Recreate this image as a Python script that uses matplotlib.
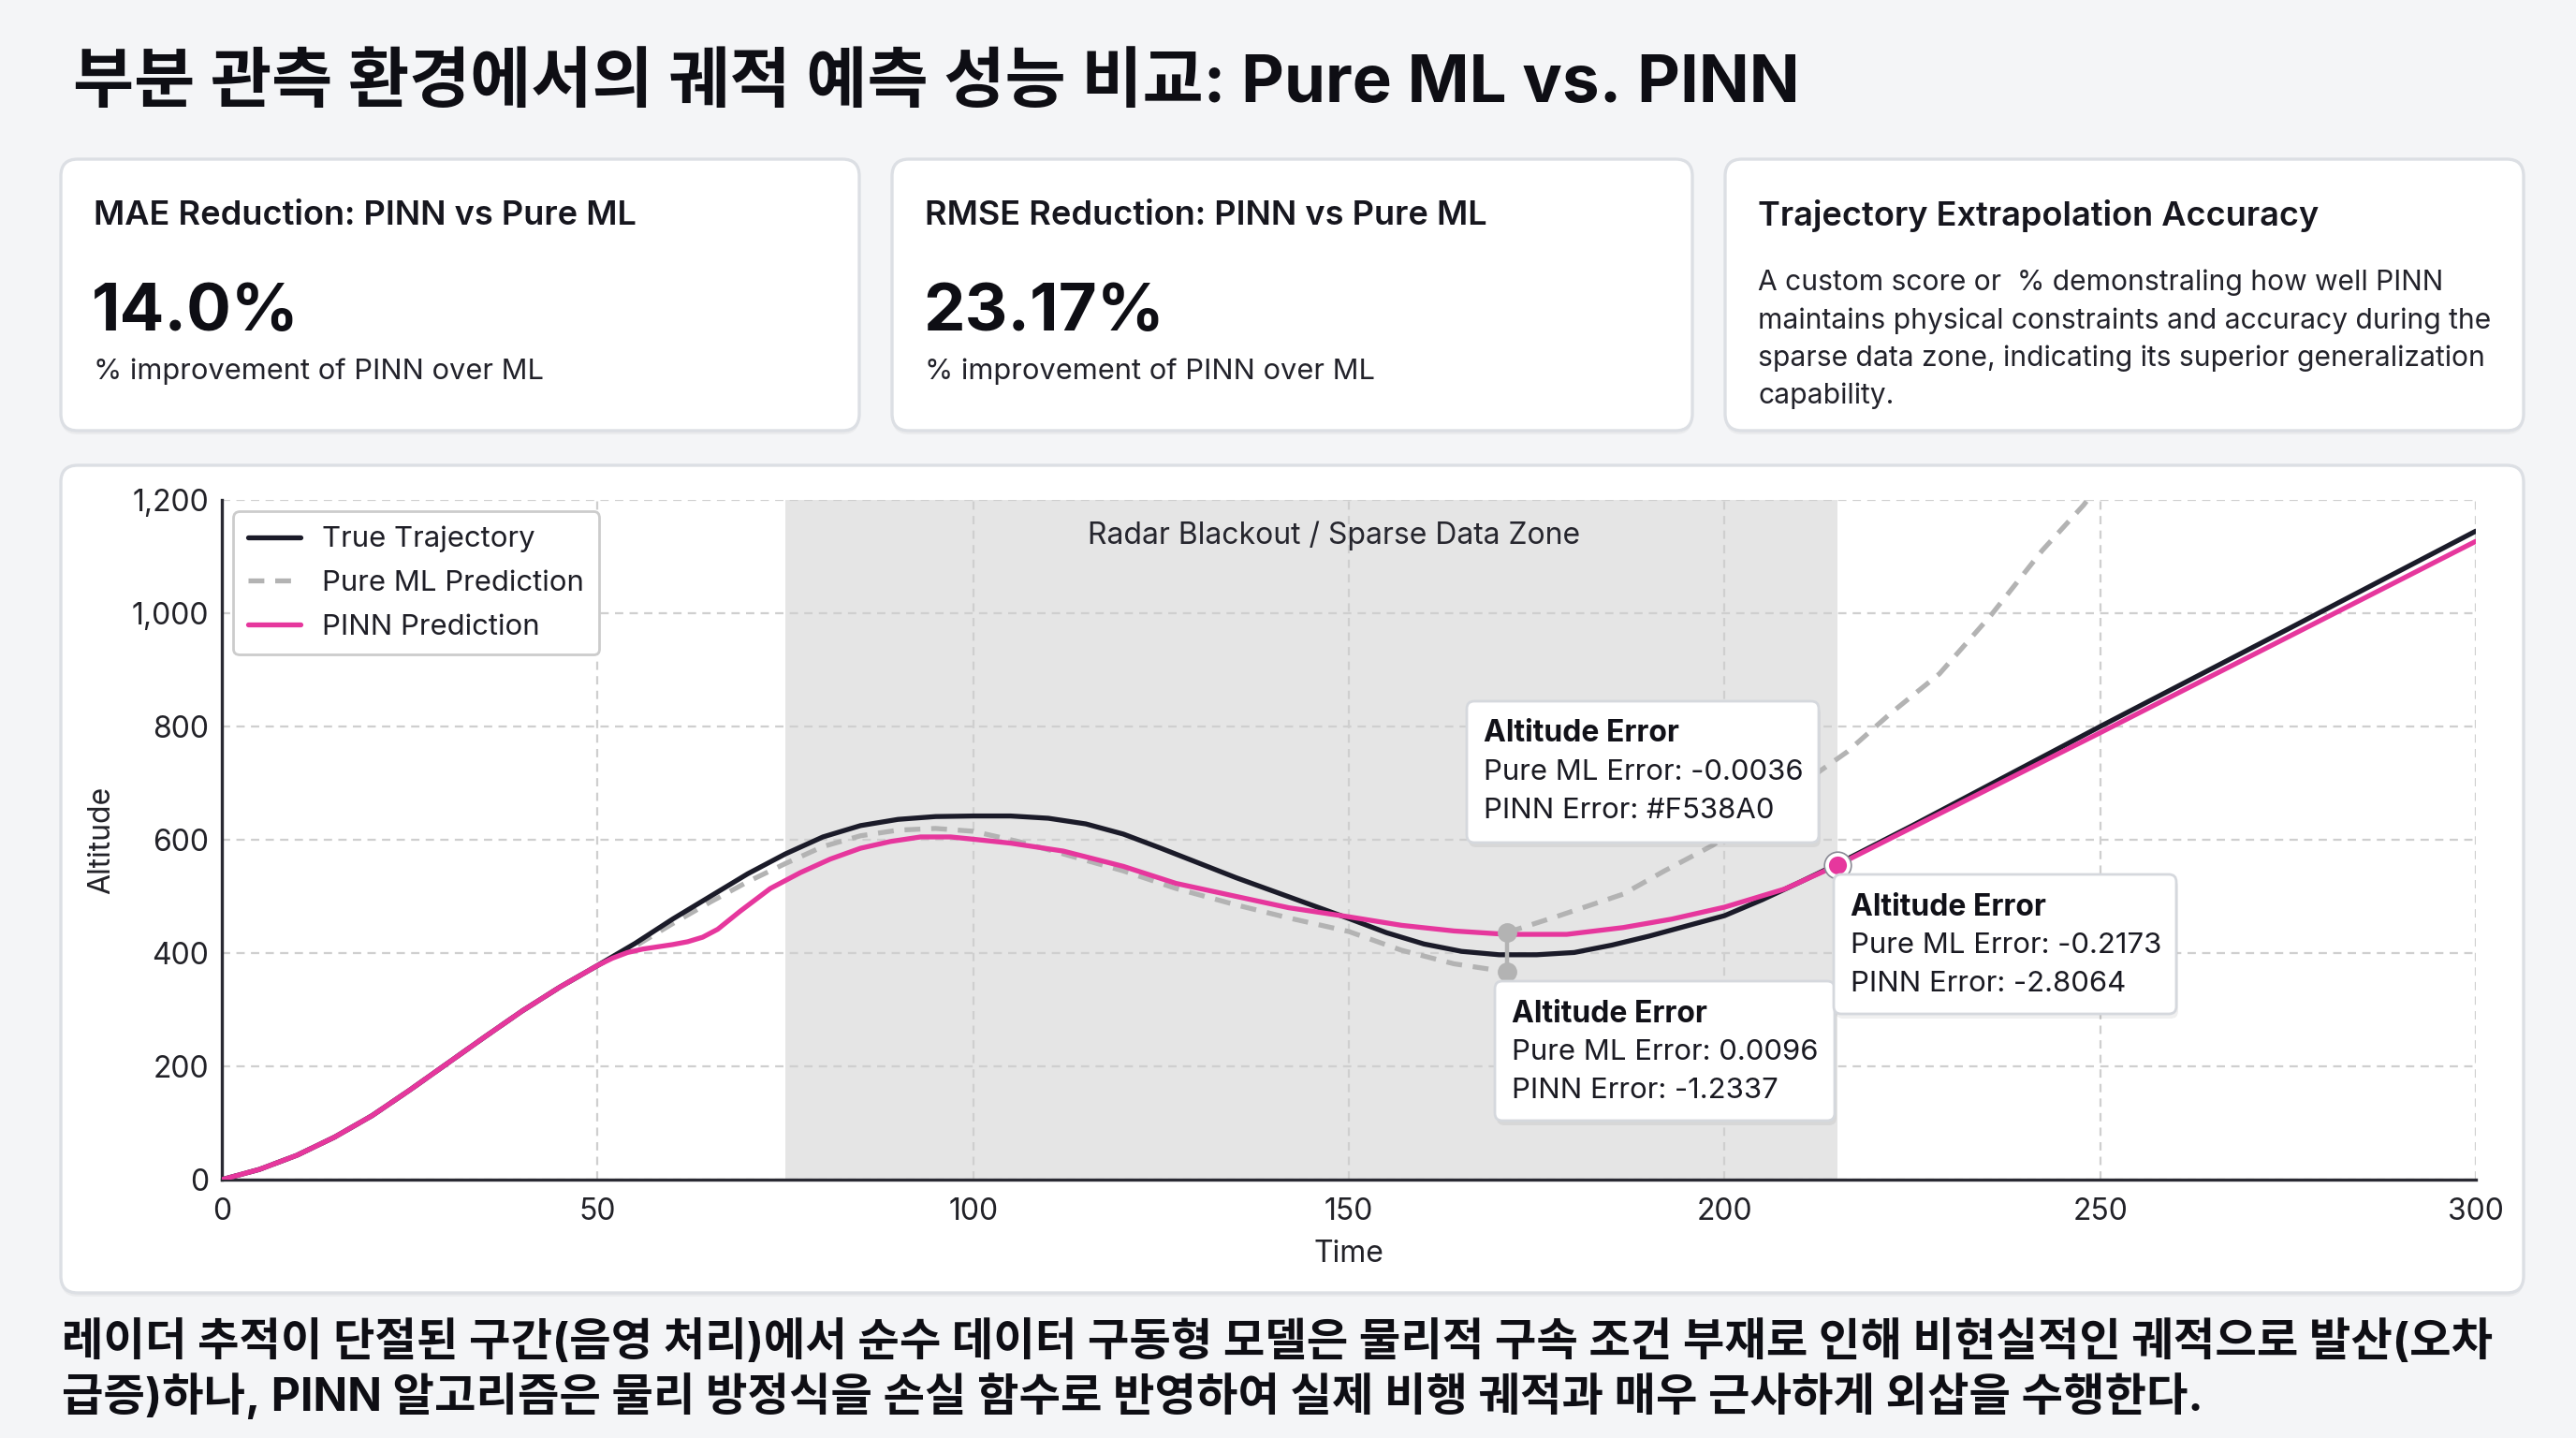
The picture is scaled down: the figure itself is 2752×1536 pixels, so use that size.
import numpy as np
import matplotlib
matplotlib.use("Agg")
import matplotlib.pyplot as plt
from matplotlib.patches import FancyBboxPatch
from matplotlib.transforms import IdentityTransform
from matplotlib.ticker import FuncFormatter

W, H, DPI = 2752, 1536, 200

# ---------------- data ----------------
title = "부분 관측 환경에서의 궤적 예측 성능 비교: Pure ML vs. PINN"
card_titles = ["MAE Reduction: PINN vs Pure ML",
               "RMSE Reduction: PINN vs Pure ML",
               "Trajectory Extrapolation Accuracy"]
card_values = ["14.0%", "23.17%"]
card_subtitles = ["% improvement of PINN over ML", "% improvement of PINN over ML"]
card3_text = ("A custom score or  % demonstraling how well PINN\n"
              "maintains physical constraints and accuracy during the\n"
              "sparse data zone, indicating its superior generalization\n"
              "capability.")
caption = ("레이더 추적이 단절된 구간(음영 처리)에서 순수 데이터 구동형 모델은 물리적 구속 조건 부재로 인해 비현실적인 궤적으로 발산(오차\n"
           "급증)하나, PINN 알고리즘은 물리 방정식을 손실 함수로 반영하여 실제 비행 궤적과 매우 근사하게 외삽을 수행한다.")

t_true = [0, 5, 10, 15, 20, 25, 30, 35, 40, 45, 50, 55, 60, 65, 70, 75, 80, 85, 90, 95,
          100, 105, 110, 115, 120, 125, 130, 135, 140, 145, 150, 155, 160, 165, 170, 175,
          180, 185, 190, 195, 200, 205, 210, 215, 225, 250, 275, 300]
alt_true = [0, 18, 43, 75, 113, 158, 205, 252, 298, 340, 378, 417, 460, 500, 540, 575, 605,
            625, 636, 641, 642, 642, 638, 628, 610, 585, 559, 533, 509, 485, 461, 436, 416,
            403, 397, 397, 401, 414, 430, 448, 466, 494, 525, 557, 625, 800, 972, 1145]

t_ml_a = [0, 5, 10, 15, 20, 25, 30, 35, 40, 45, 50, 55, 60, 65, 70, 75, 80, 85, 90, 95,
          100, 106, 112, 120, 127, 135, 142, 150, 157, 164, 171]
alt_ml_a = [0, 18, 43, 75, 113, 158, 205, 252, 298, 340, 378, 412, 452, 490, 526, 558, 588,
            607, 617, 620, 615, 597, 575, 545, 514, 485, 462, 438, 405, 381, 367]
t_ml_b = [171, 178, 186.5, 192, 198.4, 207, 216.3, 222, 228.6, 235.5, 242.3, 247.8, 249]
alt_ml_b = [436, 466, 504, 545, 590, 668, 755, 822, 893, 997, 1111, 1191, 1212]

t_pinn = [0, 5, 10, 15, 20, 25, 30, 35, 40, 45, 50, 52, 54, 56, 58, 60, 62, 64, 66, 69, 73,
          77, 81, 85, 89, 93, 97, 100, 105, 112, 120, 127, 135, 142, 150, 157, 164, 171, 179,
          186.5, 193, 200, 208, 215, 250, 300]
alt_pinn = [0, 18, 43, 75, 113, 158, 205, 252, 298, 340, 378, 391, 401, 407, 411, 415, 420,
            428, 442, 474, 514, 542, 566, 585, 597, 605, 605, 601, 594, 580, 553, 523, 500,
            480, 464, 449, 439, 433, 433, 445, 460, 481, 513, 555, 789, 1127]

blackout = (75, 215)
zone_label = "Radar Blackout / Sparse Data Zone"
err_t = 171
err_pinn = 436
err_ml = 367
marker_t = 215
marker_alt = 556

ann_title = "Altitude Error"
ann_lines = [["Pure ML Error: -0.0036", "PINN Error: #F538A0"],
             ["Pure ML Error: 0.0096", "PINN Error: -1.2337"],
             ["Pure ML Error: -0.2173", "PINN Error: -2.8064"]]

series_names = ["True Trajectory", "Pure ML Prediction", "PINN Prediction"]
x_ticks = [0, 50, 100, 150, 200, 250, 300]
y_ticks = [0, 200, 400, 600, 800, 1000, 1200]

# ---------------- style ----------------
C_BG = "#F4F5F7"
C_DARK = "#1B1B29"
C_GRAY = "#B3B3B3"
C_PINK = "#E6379D"
C_SHADE = "#E5E5E5"
C_BORDER = "#DCDFE4"
FONT = ["Inter", "Noto Sans CJK KR", "DejaVu Sans"]

plt.rcParams["font.family"] = FONT

fig = plt.figure(figsize=(W / DPI, H / DPI), dpi=DPI, facecolor=C_BG)


def fx(x):
    return x / W


def fy(y):
    return 1 - y / H


def card(x0, y0, x1, y1, r=18):
    sh = FancyBboxPatch((x0, H - y1 - 4), x1 - x0, y1 - y0,
                        boxstyle=f"round,pad=0,rounding_size={r}",
                        transform=IdentityTransform(), facecolor="#000000",
                        alpha=0.04, edgecolor="none", zorder=0.5)
    fig.add_artist(sh)
    p = FancyBboxPatch((x0, H - y1), x1 - x0, y1 - y0,
                       boxstyle=f"round,pad=0,rounding_size={r}",
                       transform=IdentityTransform(), facecolor="white",
                       edgecolor=C_BORDER, linewidth=1.2, zorder=1)
    fig.add_artist(p)


# title
fig.text(fx(78), fy(90), title, fontsize=25.5, fontweight="bold", color="#0E0E14",
         va="center", ha="left", family=["Inter", "Noto Sans CJK KR"])

# KPI cards
cards_x = [(65, 918), (953, 1808), (1843, 2696)]
for i, (x0, x1) in enumerate(cards_x):
    card(x0, 170, x1, 460)
    fig.text(fx(x0 + 35), fy(230), card_titles[i], fontsize=13, fontweight="semibold",
             color="#16161E", va="center", ha="left")
for i in range(2):
    x0 = cards_x[i][0]
    fig.text(fx(x0 + 33), fy(334), card_values[i], fontsize=25.5, fontweight="bold",
             color="#0E0E14", va="center", ha="left")
    fig.text(fx(x0 + 35), fy(397), card_subtitles[i], fontsize=11.1,
             color="#22222A", va="center", ha="left")
fig.text(fx(cards_x[2][0] + 35), fy(288), card3_text, fontsize=10.8, color="#22222A",
         va="top", ha="left", linespacing=1.52)

# chart card
card(65, 497, 2696, 1381)

ax = fig.add_axes([fx(237), fy(1260), (2645 - 237) / W, (1260 - 534) / H])
ax.set_zorder(2)
ax.set_facecolor("white")
ax.set_xlim(0, 300)
ax.set_ylim(0, 1200)
ax.axvspan(blackout[0], blackout[1], color=C_SHADE, zorder=0.2, lw=0)
ax.set_axisbelow(True)
ax.grid(True, color="#CFCFCF", linestyle=(0, (4, 3)), linewidth=0.8, zorder=0.5)
ax.set_xticks(x_ticks)
ax.set_yticks(y_ticks)
ax.yaxis.set_major_formatter(FuncFormatter(lambda v, p: f"{int(v):,}"))
ax.tick_params(length=0, labelsize=11.5, colors="#222228")
ax.tick_params(axis="y", pad=5)
ax.tick_params(axis="x", pad=7)
for s in ["top", "right"]:
    ax.spines[s].set_visible(False)
for s in ["left", "bottom"]:
    ax.spines[s].set_color("#2A2A33")
    ax.spines[s].set_linewidth(1.2)
ax.set_xlabel("Time", fontsize=11.5, color="#222228", labelpad=5)
ax.set_ylabel("Altitude", fontsize=11.5, color="#222228", labelpad=6)

ax.text((blackout[0] + blackout[1]) / 2 + 3, 1137, zone_label, fontsize=11.5,
        color="#26262E", ha="center", va="center")

l_true, = ax.plot(t_true, alt_true, color=C_DARK, lw=1.9, zorder=3,
                  solid_capstyle="round", label=series_names[0])
l_ml, = ax.plot(t_ml_a, alt_ml_a, color=C_GRAY, lw=1.9, dashes=(3.2, 2.2), zorder=2.8,
                label=series_names[1])
ax.plot(t_ml_b, alt_ml_b, color=C_GRAY, lw=1.9, dashes=(3.2, 2.2), zorder=2.8)
l_pinn, = ax.plot(t_pinn, alt_pinn, color=C_PINK, lw=1.9, zorder=3.2,
                  solid_capstyle="round", label=series_names[2])

# error connector + markers
ax.plot([err_t, err_t], [err_ml, err_pinn], color=C_GRAY, lw=1.6, zorder=3.5,
        marker="o", markersize=6.5, markerfacecolor=C_GRAY, markeredgecolor=C_GRAY)
ax.plot([marker_t], [marker_alt], marker="o", markersize=8.5, markerfacecolor=C_PINK,
        markeredgecolor="white", markeredgewidth=1.6, zorder=5)
ax.plot([marker_t], [marker_alt], marker="o", markersize=10.3, markerfacecolor="none",
        markeredgecolor="#8A8A95", markeredgewidth=0.6, zorder=5.1)

leg = ax.legend(handles=[l_true, l_ml, l_pinn], loc="upper left", fontsize=11.2,
                frameon=True, fancybox=True, framealpha=1, edgecolor="#CCCCCC",
                borderaxespad=0.4, handlelength=1.8, handletextpad=0.75,
                labelspacing=0.6, borderpad=0.5)
leg.get_frame().set_linewidth(1.0)
for txt in leg.get_texts():
    txt.set_color("#1E1E26")

# annotation boxes (pixel layout)
boxes = [(1567, 749, 1943, 900), (1597, 1048, 1960, 1197), (1959, 934, 2325, 1083)]
for (x0, y0, x1, y1), lines in zip(boxes, ann_lines):
    sh = FancyBboxPatch((x0 + 2, H - y1 - 5), x1 - x0, y1 - y0,
                        boxstyle="round,pad=0,rounding_size=8",
                        transform=IdentityTransform(), facecolor="black", alpha=0.06,
                        edgecolor="none", zorder=6)
    fig.add_artist(sh)
    p = FancyBboxPatch((x0, H - y1), x1 - x0, y1 - y0,
                       boxstyle="round,pad=0,rounding_size=8",
                       transform=IdentityTransform(), facecolor="white",
                       edgecolor="#D5D8DD", linewidth=1.0, zorder=6.1)
    fig.add_artist(p)
    fig.text(fx(x0 + 18), fy(y0 + 35), ann_title, fontsize=11.5, fontweight="bold",
             color="#111118", va="center", ha="left", zorder=7)
    fig.text(fx(x0 + 18), fy(y0 + 76), lines[0], fontsize=11.2, color="#1A1A22",
             va="center", ha="left", zorder=7)
    fig.text(fx(x0 + 18), fy(y0 + 117), lines[1], fontsize=11.2, color="#1A1A22",
             va="center", ha="left", zorder=7)

# caption
fig.text(fx(66), fy(1410), caption, fontsize=17.4, fontweight="bold", color="#0E0E14",
         va="top", ha="left", linespacing=1.22, family=["Inter", "Noto Sans CJK KR"])

fig.savefig("out.png", dpi=DPI, facecolor=C_BG)
